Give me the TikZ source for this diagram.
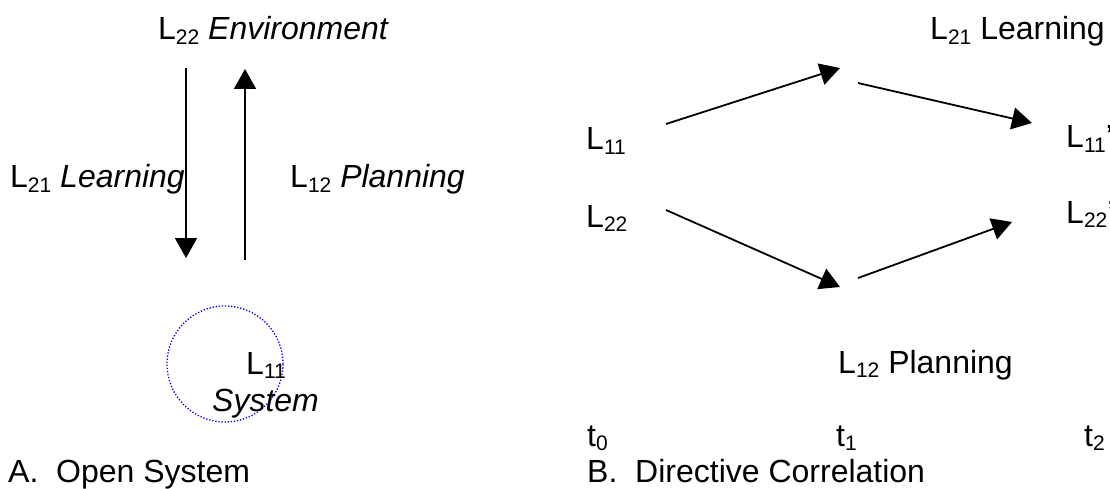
\documentclass[tikz,border=0pt]{standalone}
\usepackage{fontspec}
\setmainfont{Liberation Sans}
\usetikzlibrary{arrows.meta,positioning}
\tikzset{
  lbl/.style={anchor=base west, inner sep=0pt, font=\fontsize{32}{38}\selectfont},
  flow/.style={line width=1.8pt, -{Triangle[length=20pt,width=22pt]}},
  halo/.style={draw=blue, line width=1.3pt, dash pattern=on 1.3pt off 1.8pt}
}
\newcommand{\sub}[1]{\raisebox{-0.14em}{\fontsize{21}{21}\selectfont #1}}
\newcommand{\Lsub}[1]{L\sub{#1}}

\begin{document}
\begin{tikzpicture}[x=1pt, y=-1pt]
  \useasboundingbox (0,0) rectangle (1110,489);

  % A. Open system
  \node [lbl] (envA) at (158,40) {\Lsub{22} \textit{Environment}};
  \node [lbl] (learnA) at (10,188) {\Lsub{21} \textit{Learning}};
  \node [lbl] (planA) at (290,188) {\Lsub{12} \textit{Planning}};
  \coordinate (dnTop) at (186,68);
  \coordinate (dnBot) at (186,258);
  \coordinate (upBot) at (245,260);
  \coordinate (upTop) at (245,69);
  \draw [flow] (dnTop) -- (dnBot);
  \draw [flow] (upBot) -- (upTop);

  \node [halo, circle, minimum size=116pt, inner sep=0pt] (sysA) at (225,364) {};
  \node [lbl] (l11A) at (246,374) {\Lsub{11}};
  \node [lbl] (systemA) at (212,411) {\textit{System}};
  \node [lbl] (capA) at (8,482) {A.\ \ Open System};

  % B. Directive correlation
  \node [lbl] (l11B) at (586,150) {\Lsub{11}};
  \node [lbl] (l22B) at (586,227) {\Lsub{22}};
  \node [lbl] (learnB) at (930,40) {\Lsub{21} Learning};
  \node [lbl] (planB) at (838,373) {\Lsub{12} Planning};
  \node [lbl] (l11C) at (1066,148) {\Lsub{11}'};
  \node [lbl] (l22C) at (1066,223) {\Lsub{22}'};

  \coordinate (up0) at (666,124);
  \coordinate (up1) at (840,68);
  \coordinate (dn0) at (858,83);
  \coordinate (dn1) at (1032,123);
  \coordinate (lo0) at (666,210);
  \coordinate (lo1) at (840,287);
  \coordinate (ri0) at (858,278);
  \coordinate (ri1) at (1012,222);
  \draw [flow] (up0) -- (up1);
  \draw [flow] (dn0) -- (dn1);
  \draw [flow] (lo0) -- (lo1);
  \draw [flow] (ri0) -- (ri1);

  \node [lbl] (t0) at (587,446) {t\sub{0}};
  \node [lbl] (t1) at (836,446) {t\sub{1}};
  \node [lbl] (t2) at (1084,446) {t\sub{2}};
  \node [lbl] (capB) at (587,482) {B.\ \ Directive Correlation};
\end{tikzpicture}
\end{document}
